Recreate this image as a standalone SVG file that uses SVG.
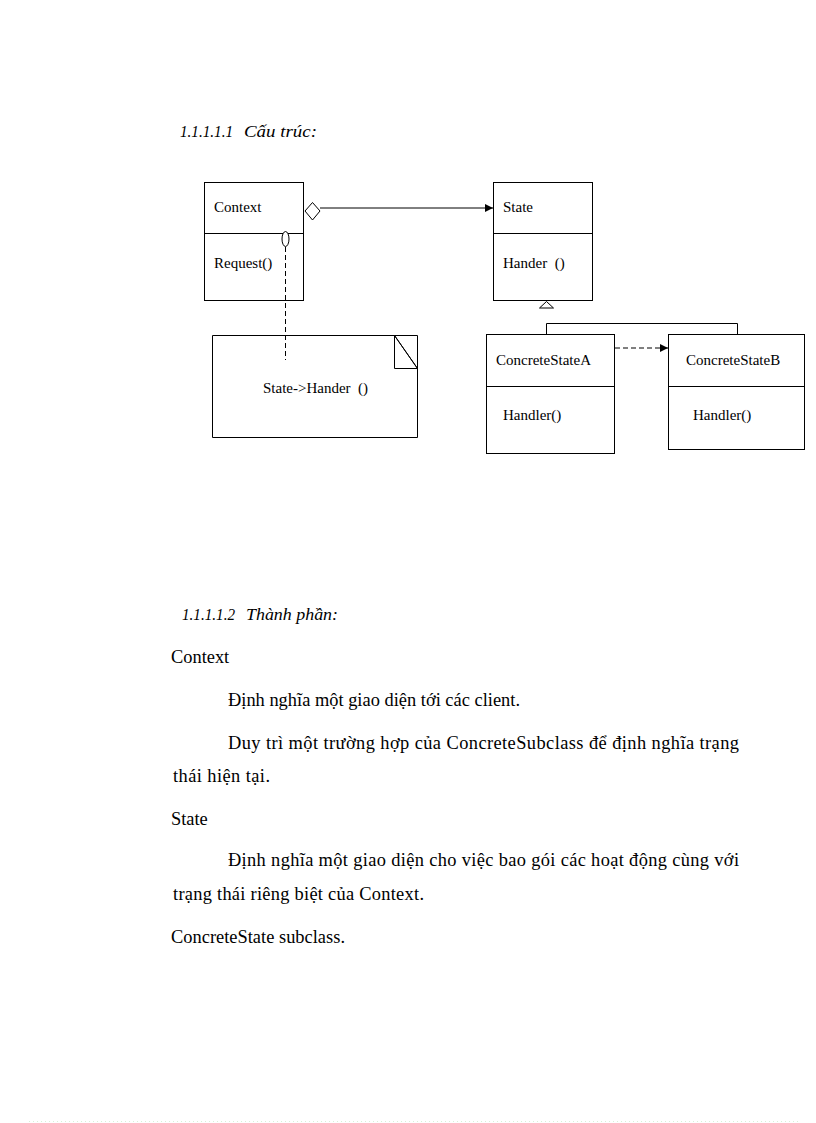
<svg xmlns="http://www.w3.org/2000/svg" width="816" height="1123" viewBox="0 0 816 1123">
<style>
.box{fill:#fff;stroke:#000;stroke-width:1}
.ln{fill:none;stroke:#000;stroke-width:1}
.dash{fill:none;stroke:#000;stroke-width:1;stroke-dasharray:5 3}
.d{font-family:"Liberation Serif","Times New Roman",serif;font-size:15px;fill:#000}
.h{font-family:"Liberation Serif","Times New Roman",serif;font-size:16px;font-style:italic;fill:#000}
.b{font-family:"Liberation Serif","Times New Roman",serif;font-size:18.4px;fill:#000}
</style>
<defs>
<marker id="fa" viewBox="0 0 10 10" refX="10" refY="5" markerWidth="8" markerHeight="8" markerUnits="userSpaceOnUse" orient="auto">
<path d="M0,0 L10,5 L0,10 z" fill="#000"/>
</marker>
</defs>
<rect width="816" height="1123" fill="#fff"/>

<g id="heading1">
<text class="h" x="180" y="137" textLength="53" lengthAdjust="spacingAndGlyphs">1.1.1.1.1</text>
<text class="h" x="244" y="137" textLength="73" lengthAdjust="spacingAndGlyphs">Cấu trúc:</text>
</g>

<g id="Context">
<rect class="box" x="204.5" y="182.5" width="99" height="118"/>
<line class="ln" x1="204.5" y1="233.5" x2="303.5" y2="233.5"/>
<text class="d" x="214" y="212">Context</text>
<text class="d" x="214" y="268">Request()</text>
</g>

<g id="note">
<path class="box" d="M212.5,335.5 H394.5 L417.5,368.5 V437.5 H212.5 Z"/>
<path class="ln" d="M394.5,335.5 H417.5 V368.5 M394.5,335.5 V368.5 H417.5 M394.5,335.5 L417.5,368.5"/>
<text class="d" x="263" y="393" xml:space="preserve">State-&gt;Hander  ()</text>
</g>

<g id="State">
<rect class="box" x="493.5" y="182.5" width="99" height="118"/>
<line class="ln" x1="493.5" y1="233.5" x2="592.5" y2="233.5"/>
<text class="d" x="503" y="212">State</text>
<text class="d" x="503" y="268" xml:space="preserve">Hander  ()</text>
</g>

<g id="ConcreteStateA">
<rect class="box" x="486.5" y="334.5" width="128" height="119"/>
<line class="ln" x1="486.5" y1="386.5" x2="614.5" y2="386.5"/>
<text class="d" x="496" y="365">ConcreteStateA</text>
<text class="d" x="503" y="420">Handler()</text>
</g>

<g id="ConcreteStateB">
<rect class="box" x="668.5" y="334.5" width="136" height="115"/>
<line class="ln" x1="668.5" y1="386.5" x2="804.5" y2="386.5"/>
<text class="d" x="686" y="365">ConcreteStateB</text>
<text class="d" x="693" y="420">Handler()</text>
</g>

<g id="connectors">
<line class="ln" x1="320" y1="208" x2="493" y2="208" marker-end="url(#fa)"/>
<polygon class="box" points="305,211 312.5,202.5 320,211 312.5,220"/>
<line class="dash" x1="285.5" y1="247" x2="285.5" y2="360"/>
<ellipse class="box" cx="285.5" cy="239" rx="3.5" ry="7.5"/>
<polyline class="ln" points="546.5,334 546.5,323.5 737.5,323.5 737.5,335"/>
<polygon class="box" points="546.5,301.5 539.5,308 553.5,308"/>
<line class="dash" x1="615" y1="348" x2="668" y2="348" marker-end="url(#fa)"/>
</g>

<g id="body">
<text class="h" x="182" y="620" textLength="53" lengthAdjust="spacingAndGlyphs">1.1.1.1.2</text>
<text class="h" x="246" y="620" textLength="92" lengthAdjust="spacingAndGlyphs">Thành phần:</text>
<text class="b" x="171" y="663">Context</text>
<text class="b" x="228" y="706" textLength="292" lengthAdjust="spacing">Định nghĩa một giao diện tới các client.</text>
<text class="b" x="228" y="749" textLength="511" lengthAdjust="spacing">Duy trì một trường hợp của ConcreteSubclass để định nghĩa trạng</text>
<text class="b" x="173" y="782" textLength="97" lengthAdjust="spacing">thái hiện tại.</text>
<text class="b" x="171" y="825">State</text>
<text class="b" x="228" y="866" textLength="511" lengthAdjust="spacing">Định nghĩa một giao diện cho việc bao gói các hoạt động cùng với</text>
<text class="b" x="173" y="900" textLength="251" lengthAdjust="spacing">trạng thái riêng biệt của Context.</text>
<text class="b" x="171" y="943" textLength="174" lengthAdjust="spacing">ConcreteState subclass.</text>
</g>
<line x1="29" y1="1121.5" x2="800" y2="1121.5" stroke="#d8f0d8" stroke-width="1" stroke-dasharray="1 3"/>
</svg>
